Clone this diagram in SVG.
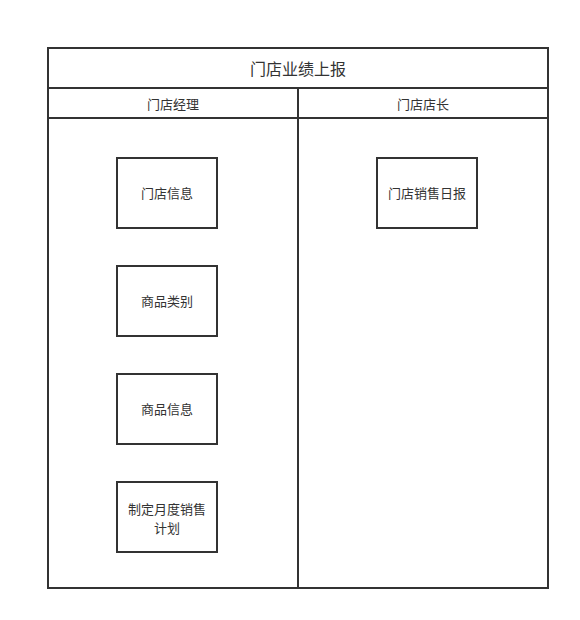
<svg xmlns="http://www.w3.org/2000/svg" width="580" height="620" viewBox="0 0 580 620">
<style>
.ln{fill:none;stroke:#333;stroke-width:2}
.bx{fill:#fff;stroke:#333;stroke-width:2}
.t{font-family:"Noto Sans CJK SC","Liberation Sans",sans-serif;font-size:13px;fill:#333;text-anchor:middle;dominant-baseline:central}
.tt{font-size:16px}
</style>
<rect width="580" height="620" fill="#fff"/>
<g id="pool">
<rect class="ln" x="48" y="48" width="500" height="540"/>
<line class="ln" x1="48" y1="88" x2="548" y2="88"/>
<line class="ln" x1="48" y1="118" x2="548" y2="118"/>
<line class="ln" x1="298" y1="88" x2="298" y2="588"/>
<text class="t tt" x="298" y="68">门店业绩上报</text>
<text class="t" x="173" y="103">门店经理</text>
<text class="t" x="423" y="103">门店店长</text>
</g>
<g id="n1"><rect class="bx" x="117" y="158" width="100" height="70"/><text class="t" x="167" y="192.5">门店信息</text></g>
<g id="n2"><rect class="bx" x="117" y="266" width="100" height="70"/><text class="t" x="167" y="300.5">商品类别</text></g>
<g id="n3"><rect class="bx" x="117" y="374" width="100" height="70"/><text class="t" x="167" y="408.5">商品信息</text></g>
<g id="n4"><rect class="bx" x="117" y="482" width="100" height="70"/><text class="t" x="167" y="507.5"><tspan x="167" y="507.5">制定月度销售</tspan><tspan x="167" y="526.5">计划</tspan></text></g>
<g id="n5"><rect class="bx" x="377" y="158" width="100" height="70"/><text class="t" x="427" y="192.5">门店销售日报</text></g>
<g id="connectors"></g>
</svg>
